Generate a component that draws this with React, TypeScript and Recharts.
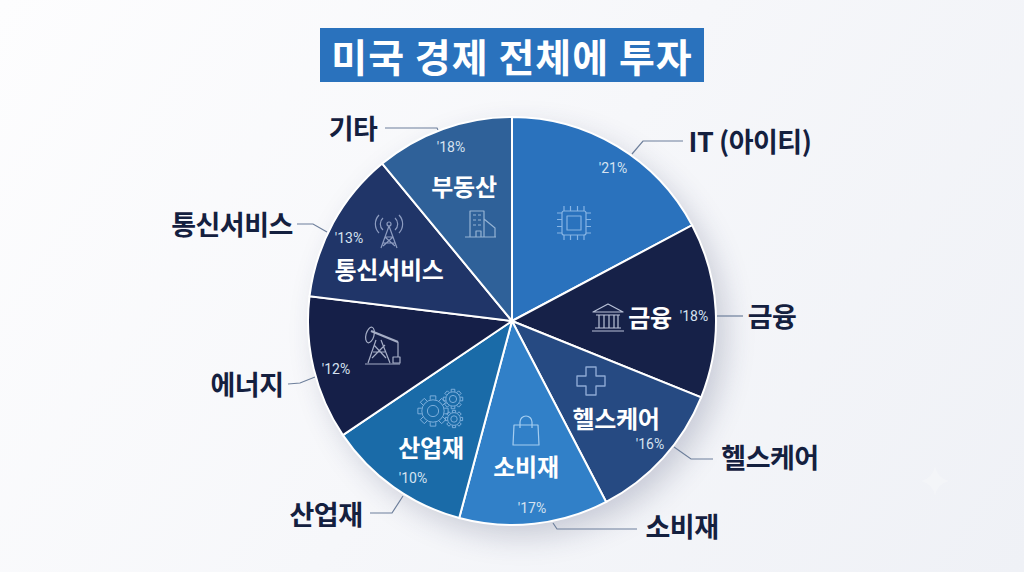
import { PieChart, Pie, Cell } from 'recharts';

const KR = '"Noto Sans CJK KR", "Noto Sans", sans-serif';

const sectors = ['IT (아이티)', '금융', '헬스케어', '소비재', '산업재', '에너지', '통신서비스', '기타'];
// slice sizes (degrees of arc), the printed % do not add up to 100
const sliceSizes = [62, 50, 40.5, 42.5, 41, 41, 43.5, 39.5];
const sliceColors = ['#2a72bd', '#162148', '#264a82', '#3180c8', '#1a6ba8', '#151f48', '#203568', '#2f6199'];
const percentLabels = ["'21%", "'18%", "'16%", "'17%", "'10%", "'12%", "'13%", "'18%"];
const innerNames = ['', '금융', '헬스케어', '소비재', '산업재', '', '통신서비스', '부동산'];

const chartData = sectors.map((name, i) => ({ name, size: sliceSizes[i] }));

const outerPos = [
  { x: 750, y: 140 }, { x: 772, y: 315 }, { x: 770, y: 456 }, { x: 682, y: 525 },
  { x: 326, y: 513 }, { x: 247, y: 383 }, { x: 232, y: 223 }, { x: 353, y: 127 },
];
const innerPos = [
  null, { x: 650, y: 316 }, { x: 616, y: 417 }, { x: 526, y: 465 },
  { x: 431, y: 446 }, null, { x: 389, y: 268 }, { x: 464, y: 185 },
];
const percentPos = [
  { x: 613, y: 168 }, { x: 694, y: 316 }, { x: 650, y: 444 }, { x: 532, y: 508 },
  { x: 413, y: 478 }, { x: 336, y: 369 }, { x: 349, y: 238 }, { x: 451, y: 147 },
];
const leaders = [
  '632,154 643,141 683,141', '717,316 743,316', '674,447 691,459 713,459', '553,523 557,529 637,529',
  '403,496 392,513 370,513', '315,377 300,383 288,384', '327,232 313,224 297,224', '438,130 437,128 385,128',
];

const iconProps = { fill: 'none', strokeWidth: 1.2, strokeLinejoin: 'round' as const };

function Chip() {
  const pins = [-10, -3.5, 3.5, 10];
  return (
    <g transform="translate(574,223)" {...iconProps} stroke="#86b4e4">
      <rect x={-12} y={-12} width={24} height={24} rx={2} />
      <rect x={-7} y={-7} width={14} height={14} />
      {pins.map((p) => (
        <path key={p} d={`M${p} -12V-17M${p} 12V17M-12 ${p}H-17M12 ${p}H17`} />
      ))}
    </g>
  );
}

function Bank() {
  return (
    <g transform="translate(608,319)" {...iconProps} stroke="#b9c2d8">
      <path d="M-15 -7L0 -15L15 -7ZM-12 -4H12M-16 12H16M-13 9H13" />
      <path d="M-9 -4V9M-4 -4V9M1 -4V9M6 -4V9M10 -4V9" />
    </g>
  );
}

function Cross() {
  return (
    <g transform="translate(591,381)" {...iconProps} stroke="#8da9d4" strokeWidth={1.4}>
      <path d="M-5 -14H5V-5H14V5H5V14H-5V5H-14V-5H-5Z" />
    </g>
  );
}

function Bag() {
  return (
    <g transform="translate(526,431)" {...iconProps} stroke="#a5cdf0">
      <path d="M-12 -6H12L13 14H-13Z" />
      <path d="M-6 -3V-9A6 6 0 0 1 6 -9V-3" />
    </g>
  );
}

function Gear({ x, y, r }: { x: number; y: number; r: number }) {
  const teeth = [0, 45, 90, 135, 180, 225, 270, 315];
  return (
    <g transform={`translate(${x},${y})`}>
      <circle r={r * 0.8} />
      <circle r={r * 0.4} />
      {teeth.map((a) => (
        <path key={a} d={`M${-r * 0.2} ${-r * 0.8}V${-r * 1.08}H${r * 0.2}V${-r * 0.8}`} transform={`rotate(${a})`} />
      ))}
    </g>
  );
}

function Gears() {
  return (
    <g {...iconProps} stroke="#86b4e0" strokeWidth={0.9}>
      <Gear x={433} y={411} r={14} />
      <Gear x={453} y={399} r={9} />
      <Gear x={454} y={419} r={8} />
    </g>
  );
}

function Pump() {
  return (
    <g {...iconProps} stroke="#a6aec6">
      <path d="M365 364H400M368 363L376 340M390 363L381 340M373 352H385M372 358L385 345M386 358L374 345" />
      <path d="M371 331L398 342" strokeWidth={2.4} />
      <ellipse cx={370} cy={335} rx={4} ry={8} transform="rotate(15 370 335)" />
      <path d="M398 342V357M393 357H400V363H393Z" />
    </g>
  );
}

function Tower() {
  return (
    <g {...iconProps} stroke="#8d9cc0">
      <circle cx={389} cy={224} r={2} />
      <path d="M389 226L381 248M389 226L397 248M385 237H393M383 243H395M385 237L395 246M393 237L383 246" />
      <path d="M383 218A8 8 0 0 0 383 230M395 218A8 8 0 0 1 395 230M379 215A13 13 0 0 0 379 233M399 215A13 13 0 0 1 399 233" />
    </g>
  );
}

function Building() {
  return (
    <g {...iconProps} stroke="#95b3d4">
      <path d="M465 237H496M470 237V211H484V237M484 219L495 228V237M476 237V231H481V237" />
      <path d="M473 215H476M478 215H481M473 220H476M478 220H481M473 225H476M478 225H481" />
    </g>
  );
}

const sliceIcons = [<Chip />, <Bank />, <Cross />, <Bag />, <Gears />, <Pump />, <Tower />, <Building />];

// drawn through the Pie label slot so it sits above the sectors
function renderSliceLabel({ index }: { index: number }) {
  const p = innerPos[index];
  const q = percentPos[index];
  return (
    <g key={index}>
      {sliceIcons[index]}
      {p && (
        <text x={p.x} y={p.y} textAnchor="middle" dominantBaseline="central" fontFamily={KR} fontWeight={700} fontSize={24} letterSpacing={-0.3} fill="#fff">
          {innerNames[index]}
        </text>
      )}
      <text x={q.x} y={q.y} textAnchor="middle" dominantBaseline="central" fontFamily="Roboto, sans-serif" fontSize={14} fill="#d5e2f0">
        {percentLabels[index]}
      </text>
    </g>
  );
}

export default function App() {
  return (
    <div
      style={{
        position: 'fixed',
        left: 0,
        top: 0,
        width: 1024,
        height: 572,
        overflow: 'hidden',
        background: 'linear-gradient(125deg, #fdfdfe 0%, #f6f7fa 50%, #eff1f6 100%)',
      }}
    >
      <div
        style={{
          position: 'absolute',
          left: 309,
          top: 118,
          width: 406,
          height: 406,
          borderRadius: '50%',
          boxShadow: '10px 12px 30px rgba(40,50,90,0.22)',
        }}
      />
      <div style={{ position: 'absolute', left: 0, top: 0 }}>
        <PieChart width={1024} height={572} margin={{ top: 0, right: 0, bottom: 0, left: 0 }}>
          <Pie
            data={chartData}
            dataKey="size"
            nameKey="name"
            cx={512}
            cy={321}
            outerRadius={204}
            startAngle={90}
            endAngle={-270}
            stroke="#ffffff"
            strokeWidth={2}
            label={renderSliceLabel}
            labelLine={false}
            isAnimationActive={false}
          >
            {chartData.map((d, i) => (
              <Cell key={d.name} fill={sliceColors[i]} />
            ))}
          </Pie>

          <rect x={320} y={28} width={384} height={54} fill="#2a72bd" />
          <text x={512} y={55} textAnchor="middle" dominantBaseline="central" fontFamily={KR} fontWeight={700} fontSize={39} letterSpacing={1} fill="#fff">
            미국 경제 전체에 투자
          </text>

          {leaders.map((pts) => (
            <polyline key={pts} points={pts} fill="none" stroke="#6d7f9b" strokeWidth={1.2} />
          ))}

          {sectors.map((name, i) => (
            <text key={name} x={outerPos[i].x} y={outerPos[i].y} textAnchor="middle" dominantBaseline="central" fontFamily={KR} fontWeight={700} fontSize={27} letterSpacing={-0.5} fill="#14203f">
              {name}
            </text>
          ))}

          {/* faint sparkle, lower right */}
          <path d="M935 466Q937 478 949 481Q937 484 935 496Q933 484 921 481Q933 478 935 466Z" fill="#ffffff" opacity={0.22} />
        </PieChart>
      </div>
    </div>
  );
}
